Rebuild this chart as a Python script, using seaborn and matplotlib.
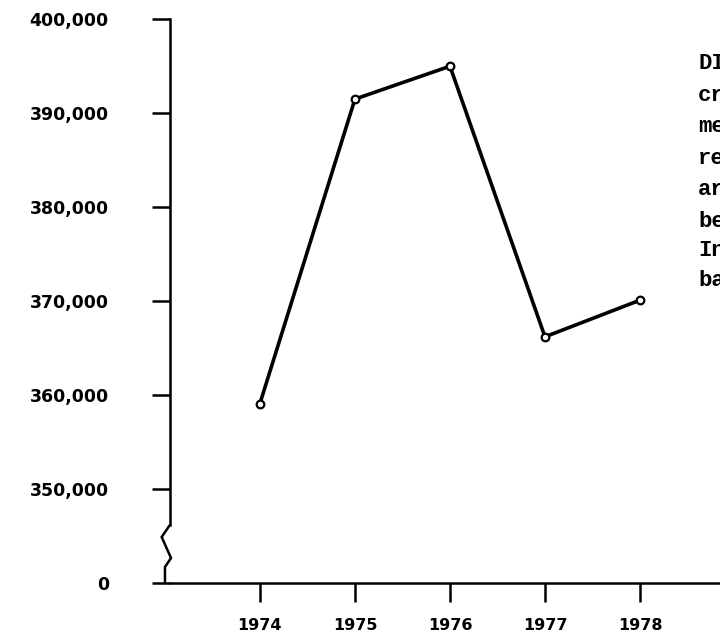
import numpy as np
import pandas as pd
import matplotlib
matplotlib.use("Agg")
import matplotlib.pyplot as plt
import seaborn as sns

# values
years = [1974, 1975, 1976, 1977, 1978]
totals = [359100, 391500, 395000, 366200, 370100]
y_ticks = [340000, 350000, 360000, 370000, 380000, 390000, 400000]
y_labels = ["0", "350,000", "360,000", "370,000", "380,000", "390,000", "400,000"]
side_text = ["DI", "cr", "me", "re", "ar", "be", "In", "ba"]

df = pd.DataFrame({"year": years, "total": totals})

sns.set_style("white")
plt.rcParams["font.family"] = ["DejaVu Sans"]
plt.rcParams["text.color"] = "black"

fig = plt.figure(figsize=(7.2, 6.41), dpi=100)
ax = fig.add_axes([0.236, 0.0905, 0.764, 0.8795])

sns.lineplot(data=df, x="year", y="total", ax=ax, color="black", linewidth=2.6,
             marker="o", markersize=5.5, markerfacecolor="white",
             markeredgecolor="black", markeredgewidth=1.6)

ax.set_xlim(1974 - 90 / 95, 1978 + 80 / 95)
ax.set_ylim(340000, 400000)

ax.set_xticks(years)
ax.set_xticklabels([str(y) for y in years], fontsize=11.5, fontweight="bold")
ax.set_yticks(y_ticks)
ax.set_yticklabels(y_labels, fontsize=12.5, fontweight="bold")

ax.tick_params(axis="y", left=True, direction="out", length=13, width=1.8,
               pad=31, colors="black")
ax.tick_params(axis="x", bottom=True, direction="out", length=14, width=1.8,
               pad=11, colors="black")
ax.set_xlabel("")
ax.set_ylabel("")

for side in ["top", "right"]:
    ax.spines[side].set_visible(False)
for side in ["bottom", "left"]:
    ax.spines[side].set_linewidth(1.8)
    ax.spines[side].set_color("black")
ax.spines["left"].set_bounds(346200, 400000)

# broken-axis zigzag between 350,000 and 0
zx = [0.0, -0.015, 0.002, -0.009, -0.009]
zy = [0.103, 0.0816, 0.0443, 0.0284, 0.0]
ax.plot(zx, zy, transform=ax.transAxes, color="black", linewidth=1.8,
        clip_on=False, solid_joinstyle="miter")

# typewritten text running off the right edge
baselines = [69, 101, 132, 164, 195, 227, 256, 286]
for txt, b in zip(side_text, baselines):
    fig.text(698 / 720, 1 - b / 641, txt, fontsize=16, fontweight="bold",
             color="black", family=["Liberation Mono", "DejaVu Sans Mono"],
             va="baseline", ha="left")

ax.set_facecolor("white")
fig.savefig("out.png", dpi=100, facecolor="white")
